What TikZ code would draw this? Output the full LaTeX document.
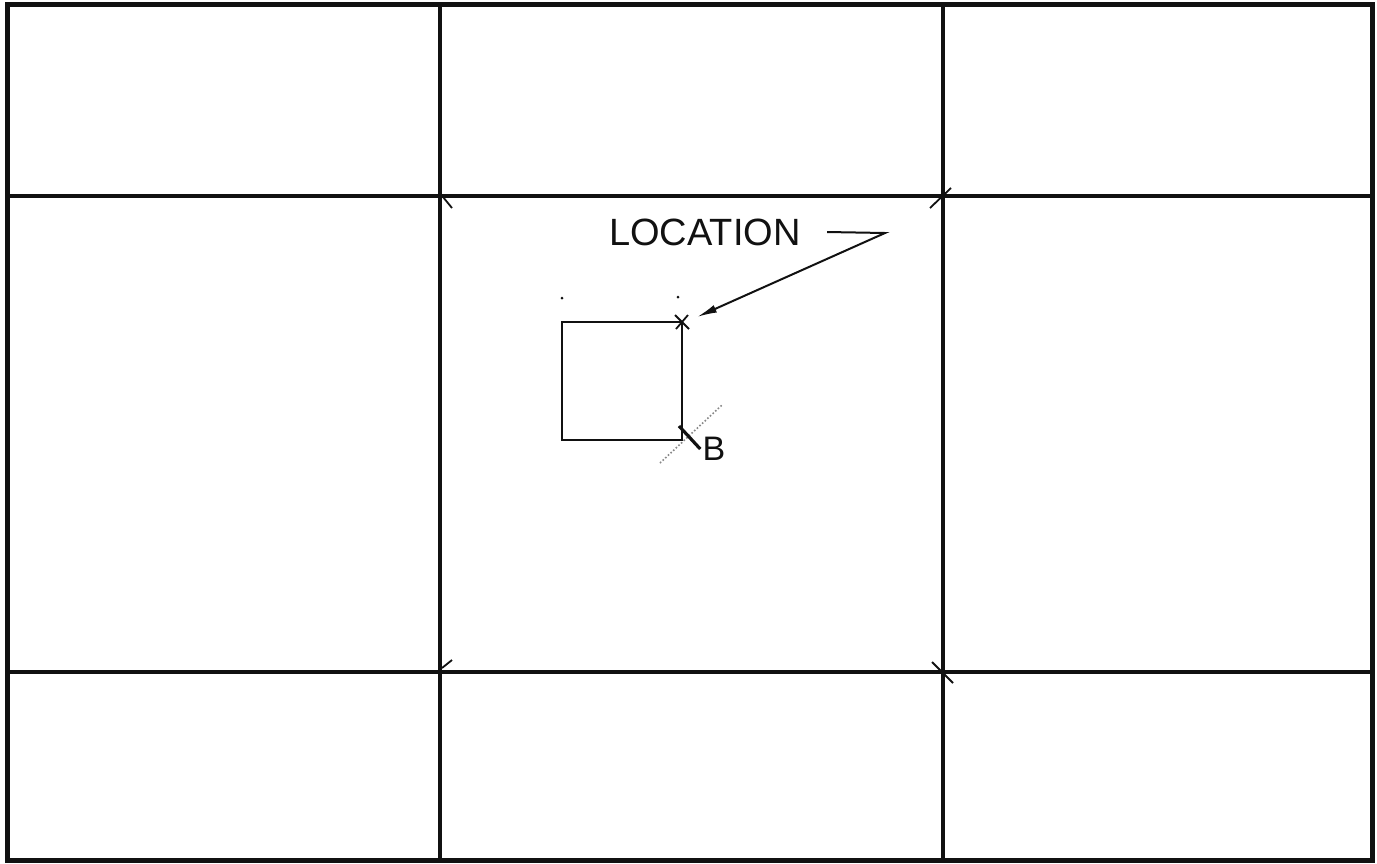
\documentclass[tikz,border=0pt]{standalone}
\usepackage{fontspec}
\setmainfont{Liberation Sans}
\usetikzlibrary{arrows.meta,positioning}
\definecolor{ink}{HTML}{111111}
\definecolor{faint}{HTML}{888888}
\tikzset{
  frame/.style={draw=ink,line width=2.5pt},
  gridline/.style={draw=ink,line width=2.2pt},
  pen/.style={draw=ink,line width=1pt},
  tick/.style={draw=ink,line width=.9pt},
  hand/.style={font=\fontsize{19}{19}\selectfont,text=ink,inner sep=1pt},
  arrow/.style={-{Latex[length=10pt,width=4pt]},line width=1pt,draw=ink},
  part/.style={draw=ink,line width=1pt,minimum width=60pt,minimum height=59pt,
    inner sep=0pt,outer sep=0pt}
}
\begin{document}
\begin{tikzpicture}[x=0.5pt,y=-0.5pt]
\useasboundingbox (0,0) rectangle (1377,863);
\draw[frame] (7.5,4.5) rectangle (1372.5,860.5);
\foreach \gx in {440,943}
  \draw[gridline] (\gx,4.5) -- (\gx,860.5);
\foreach \gy in {196,672}
  \draw[gridline] (7.5,\gy) -- (1372.5,\gy);

% marks at the crossings
\draw[tick] (443,197) -- (452,208);
\draw[tick] (930,208) -- (951,188);
\draw[tick] (442,668) -- (452,660);
\draw[tick] (932,662) -- (953,683);

\node[part] (sq) at (622,381) {};
\fill[ink] (562,298) circle (1.5) (678,297) circle (1.5);
\draw[tick] (sq.north east) ++(-7,-7) -- ++(14,14);
\draw[tick] (sq.north east) ++(-6,7) -- ++(12,-14);
\coordinate (tip) at (697,317);

\node[hand] (loc) at (705,232) {LOCATION};
\coordinate (bend) at (885,233);
\draw[arrow] (loc.east) ++(12pt,0) -- (bend) -- (tip);

\draw[faint,densely dotted,line width=.8pt] (660,463) -- (722,405);
\coordinate (bstart) at (679,426);
\node[hand,font=\fontsize{17}{17}\selectfont] (b) at (714,449) {B};
\draw[ink,line width=1.6pt] (bstart) -- (b.west);
\end{tikzpicture}
\end{document}
